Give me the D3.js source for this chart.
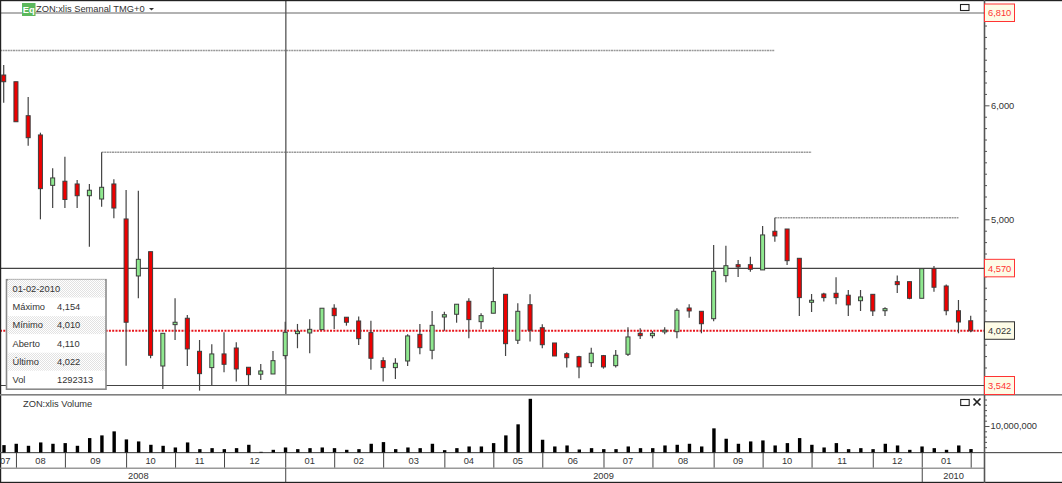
<!DOCTYPE html>
<html>
<head>
<meta charset="utf-8">
<script src="https://cdnjs.cloudflare.com/ajax/libs/d3/7.8.5/d3.min.js"></script>
<style>
html,body{margin:0;padding:0;background:#fff;overflow:hidden}
svg{display:block}
text{font-family:"Liberation Sans",Arial,sans-serif;font-size:9.3px;fill:#333}
</style>
</head>
<body>
<script>
const high = [6354,6207,6073,5760,5448,5549,5345,5310,5588,5351,5257,5251,4716,4000,4307,4161,3941,3904,4009,3921,3702,3731,3845,4102,4082,4123,4220,4255,4141,4148,4111,3790,3781,3991,4082,4196,4190,4255,4307,4176,4579,4342,4263,4342,4079,3915,3834,3804,3874,3810,3854,4053,4044,4020,4053,4220,4255,4193,4775,4769,4643,4672,4941,5014,4915,4658,4345,4356,4491,4380,4380,4342,4228,4506,4453,4567,4591,4427,4292,4154];
const low = [6023,5856,5646,5000,5099,5099,5099,4760,5111,5009,3716,4307,3781,3512,3941,3713,3497,3544,3658,3576,3544,3591,3643,3772,3869,3825,4032,4038,4067,3898,3681,3576,3599,3713,3816,3772,4023,4093,3956,4038,4176,3801,3906,3927,3869,3801,3699,3606,3705,3690,3699,3801,3950,3956,3992,3956,4137,4000,4106,4448,4494,4541,4556,4804,4599,4152,4187,4278,4255,4152,4196,4152,4152,4354,4299,4307,4365,4158,4000,4010];
const open = [6266,6207,5909,5740,5298,5334,5310,5207,5178,5310,5003,4503,4716,3713,4076,4132,3842,3699,3819,3871,3702,3641,3643,3804,3997,4003,4032,4220,4141,4108,4006,3760,3699,3757,3991,3851,4143,4167,4281,4102,4176,4342,3939,4251,4049,3915,3821,3795,3742,3804,3716,3816,4000,3979,4012,4014,4222,4193,4128,4506,4602,4602,4556,4895,4915,4658,4272,4345,4351,4334,4286,4342,4198,4453,4453,4307,4567,4415,4198,4110];
const close = [6207,5856,5716,5269,5363,5174,5207,5255,5281,5099,4097,4649,3807,4000,4097,3863,3646,3819,3728,3687,3637,3670,3760,4009,4018,4035,4220,4155,4097,3953,3781,3699,3737,3977,3874,4070,4163,4255,4120,4155,4278,3909,4193,4027,3900,3801,3786,3705,3825,3705,3807,3968,3979,4000,4027,4202,4196,4084,4544,4593,4582,4562,4863,4854,4637,4313,4290,4313,4313,4249,4319,4196,4216,4427,4307,4567,4404,4198,4099,4022];
const volume = [2785,3291,2532,3797,3291,3544,2532,5443,6456,7975,4937,4177,2911,2532,1899,3797,1266,1646,1266,1646,2911,253,1013,1899,1266,1646,1899,1646,1013,1266,3291,3924,1266,1899,1646,3291,886,1646,2278,2278,3544,6456,10633,20253,4810,2278,2658,1139,1646,1266,1266,2278,1646,1646,2658,2911,3291,2278,9114,5190,3291,4177,4557,2658,3544,5443,2911,1899,3544,1266,1646,1266,3291,2658,1013,2278,1646,1013,2658,1292].map(d => d * 1000);

const monthStarts = [1,5,10,14,18,23,27,31,36,40,44,49,53,58,62,66,71,75,79];
const monthLabels = ["07","08","09","10","11","12","01","02","03","04","05","06","07","08","09","10","11","12","01"];
const yearStarts = [23,75];
const yearLabels = ["2008","2009","2010"];
const yearCenters = [11,49,77.6];

const highLevels = [{from:-1,to:63,value:6481},{from:8,to:66,value:5588},{from:63,to:78,value:5014}];
const solidLevels = [6810,4570,3542];
const lastValue = 4022;
const priceLabels = [6000,5000];
const flagged = [{v:6810,c:"#f33"},{v:4570,c:"#f33"},{v:4022,c:"#333"},{v:3542,c:"#f33"}];
const cursorIndex = 23.05;
const infoRows = [["01-02-2010",""],["Máximo","4,154"],["Mínimo","4,010"],["Aberto","4,110"],["Último","4,022"],["Vol","1292313"]];

const W = 1062, H = 483, axisX = 984.5;
const svg = d3.select("body").append("svg").attr("width",W).attr("height",H).attr("viewBox",`0 0 ${W} ${H}`);

const x = d3.scaleLinear().domain([0,79]).range([3.7,970.7]);
const y = d3.scaleLinear().domain([3542,6810]).range([385.5,13]);
const yVol = d3.scaleLinear().domain([0,10e6]).range([452.5,426]);
const fmt = d3.format(",");

svg.append("defs").append("clipPath").attr("id","plot").append("rect").attr("x",0).attr("y",0).attr("width",axisX).attr("height",395);
const pat = svg.select("defs").append("pattern").attr("id","stipple").attr("width",2).attr("height",2).attr("patternUnits","userSpaceOnUse");
pat.append("rect").attr("width",2).attr("height",2).attr("fill","#fff");
pat.append("rect").attr("width",1).attr("height",1).attr("fill","#e2e2e2");
pat.append("rect").attr("x",1).attr("y",1).attr("width",1).attr("height",1).attr("fill","#e2e2e2");

const plot = svg.append("g").attr("clip-path","url(#plot)");

// levels
plot.selectAll("line.solid").data(solidLevels).join("line")
  .attr("x1",0).attr("x2",axisX).attr("y1",d=>y(d)).attr("y2",d=>y(d))
  .attr("stroke",(d,i)=>i===0?"#666":"#444").attr("stroke-width",1.2);
plot.selectAll("line.hl").data(highLevels).join("line")
  .attr("x1",d=>d.from<0?0:x(d.from)).attr("x2",d=>x(d.to)).attr("y1",d=>y(d.value)).attr("y2",d=>y(d.value))
  .attr("stroke","#999").attr("stroke-width",1.6).attr("stroke-dasharray","2 0.6");
plot.append("line").attr("x1",0).attr("x2",axisX).attr("y1",y(lastValue)).attr("y2",y(lastValue))
  .attr("stroke","#e8141c").attr("stroke-width",2).attr("stroke-dasharray","2 1.3");
plot.append("line").attr("x1",x(cursorIndex)).attr("x2",x(cursorIndex)).attr("y1",0).attr("y2",395)
  .attr("stroke","#555").attr("stroke-width",1.3);

// candles
const idx = d3.range(high.length);
plot.selectAll("line.wick").data(idx).join("line")
  .attr("x1",i=>x(i)).attr("x2",i=>x(i)).attr("y1",i=>y(high[i])).attr("y2",i=>y(low[i]))
  .attr("stroke","#444").attr("stroke-width",1.2);
plot.selectAll("rect.body").data(idx).join("rect")
  .attr("x",i=>x(i)-2).attr("width",4)
  .attr("y",i=>y(Math.max(open[i],close[i])))
  .attr("height",i=>Math.max(1.2,Math.abs(y(open[i])-y(close[i]))))
  .attr("fill",i=>close[i]>=open[i]?"#8fe88f":"#ee0000")
  .attr("stroke","#3d3d3d").attr("stroke-width",1);

// panel lines
const gridC = "#808080";
svg.append("rect").attr("x",0).attr("y",0).attr("width",W).attr("height",1.2).attr("fill","#222");
svg.append("rect").attr("x",0).attr("y",0).attr("width",1.2).attr("height",H).attr("fill","#222");
svg.append("rect").attr("x",0).attr("y",394).attr("width",W).attr("height",1.6).attr("fill",gridC);
svg.append("rect").attr("x",0).attr("y",452).attr("width",W).attr("height",1.2).attr("fill","#555");
svg.append("rect").attr("x",0).attr("y",467.6).attr("width",axisX).attr("height",1.2).attr("fill",gridC);
svg.append("rect").attr("x",0).attr("y",481.8).attr("width",W).attr("height",1.2).attr("fill","#222");

// price axis
const priceTicks = d3.range(3600,6900,100);
const axisPrice = d3.axisRight(y).tickValues(priceTicks).tickSizeOuter(0).tickSize(2.5).tickFormat(d=>priceLabels.includes(d)?fmt(d):"");
const gp = svg.append("g").attr("transform",`translate(${axisX},0)`).call(axisPrice);
gp.select(".domain").attr("stroke","#555").attr("stroke-width",1.6).attr("d",`M0,0V395`);
gp.selectAll(".tick line").attr("stroke","#555").attr("x2",d=>priceLabels.includes(d)?5:2.5);
gp.selectAll(".tick text").attr("x",6.5).attr("font-family",null).attr("font-size",null).style("fill","#333");

// flagged labels
const flag = svg.selectAll("g.flag").data(flagged).join("g").attr("class","flag");
flag.append("rect").attr("x",axisX).attr("y",d=>y(d.v)-9).attr("width",30).attr("height",d=>d.v===3542?Math.min(18,395-(y(d.v)-9)):17.5)
  .attr("fill","#fdfbe6").attr("stroke",d=>d.c).attr("stroke-width",1);
flag.append("text").attr("x",axisX+3.5).attr("y",d=>y(d.v)).attr("dy","0.36em").text(d=>fmt(d.v)).style("fill",d=>d.c==="#333"?"#333":"#f33");

// volume
svg.selectAll("rect.vol").data(idx).join("rect")
  .attr("x",i=>x(i)-1.4).attr("width",3.4)
  .attr("y",i=>yVol(volume[i])).attr("height",i=>yVol(0)-yVol(volume[i]))
  .attr("fill","#000");
const volTicks = d3.range(2e6,22e6,2e6);
const axisVol = d3.axisRight(yVol).tickValues(volTicks).tickSizeOuter(0).tickSize(2.5).tickFormat(d=>d===10e6?fmt(d):"");
const gv = svg.append("g").attr("transform",`translate(${axisX},0)`).call(axisVol);
gv.select(".domain").attr("stroke","#555").attr("stroke-width",1.6).attr("d","M0,395V483");
gv.selectAll(".tick line").attr("stroke","#555").attr("x2",d=>d===10e6?5:2.5);
gv.selectAll(".tick text").attr("x",6).attr("font-family",null).attr("font-size",null).style("fill","#333");

// date axis
const axisMonth = d3.axisBottom(x).tickValues(monthStarts).tickSizeOuter(0).tickSize(15).tickFormat("");
const gm = svg.append("g").attr("transform","translate(0,452.6)").call(axisMonth);
gm.select(".domain").remove();
gm.selectAll(".tick line").attr("stroke","#444");
const monthEdges = [-0.74].concat(monthStarts);
svg.selectAll("text.month").data(monthLabels).join("text")
  .attr("x",(d,i)=>x((monthEdges[i]+monthEdges[i+1])/2)).attr("y",461).attr("dy","0.36em")
  .attr("text-anchor","middle").text(d=>d);
const axisYear = d3.axisBottom(x).tickValues(yearStarts).tickSizeOuter(0).tickSize(14).tickFormat("");
const gy = svg.append("g").attr("transform","translate(0,468.2)").call(axisYear);
gy.select(".domain").remove();
gy.selectAll(".tick line").attr("stroke","#444");
svg.selectAll("text.year").data(yearLabels).join("text")
  .attr("x",(d,i)=>x(yearCenters[i])).attr("y",475.5).attr("dy","0.36em")
  .attr("text-anchor","middle").text(d=>d);

// header
const eq = svg.append("g");
eq.append("rect").attr("x",22).attr("y",3).attr("width",13.5).attr("height",13).attr("fill","#5cb85c");
eq.append("text").attr("x",28.7).attr("y",9.5).attr("dy","0.36em").attr("text-anchor","middle").text("Eq").style("fill","#fff").style("font-weight","bold");
svg.append("text").attr("x",36).attr("y",9).attr("dy","0.36em").text("ZON:xlis Semanal TMG+0");
svg.append("path").attr("d",d3.line()([[149,8],[154,8],[151.5,10.5]])+"Z").attr("fill","#333");
svg.append("text").attr("x",23).attr("y",403.5).attr("dy","0.36em").text("ZON:xlis Volume");

// window icons
svg.append("rect").attr("x",960.5).attr("y",4.5).attr("width",8.5).attr("height",6).attr("fill","none").attr("stroke","#222").attr("stroke-width",1.1);
svg.append("rect").attr("x",960.7).attr("y",399.5).attr("width",8.5).attr("height",6).attr("fill","none").attr("stroke","#222").attr("stroke-width",1.1);
svg.append("path").attr("d","M973.5,398.5L980.5,405.5M980.5,398.5L973.5,405.5").attr("stroke","#222").attr("stroke-width",1.7).attr("fill","none");

// info box
const box = svg.append("g");
box.append("rect").attr("x",6.5).attr("y",279.7).attr("width",99.5).attr("height",109.5).attr("fill","#fff").attr("stroke","#8a8a8a").attr("stroke-width",1.6);
const rowY = d3.scalePoint().domain(d3.range(infoRows.length)).range([288.5,380]);
box.selectAll("rect.row").data(infoRows.filter((d,i)=>i%2===0)).join("rect")
  .attr("x",8).attr("width",97).attr("y",d=>rowY(infoRows.indexOf(d))-9).attr("height",18).attr("fill","url(#stipple)");
box.selectAll("text.lab").data(infoRows).join("text").attr("x",12.5).attr("y",(d,i)=>rowY(i)).attr("dy","0.36em").text(d=>d[0]);
box.selectAll("text.val").data(infoRows).join("text").attr("x",57).attr("y",(d,i)=>rowY(i)).attr("dy","0.36em").text(d=>d[1]);
</script>
</body>
</html>
